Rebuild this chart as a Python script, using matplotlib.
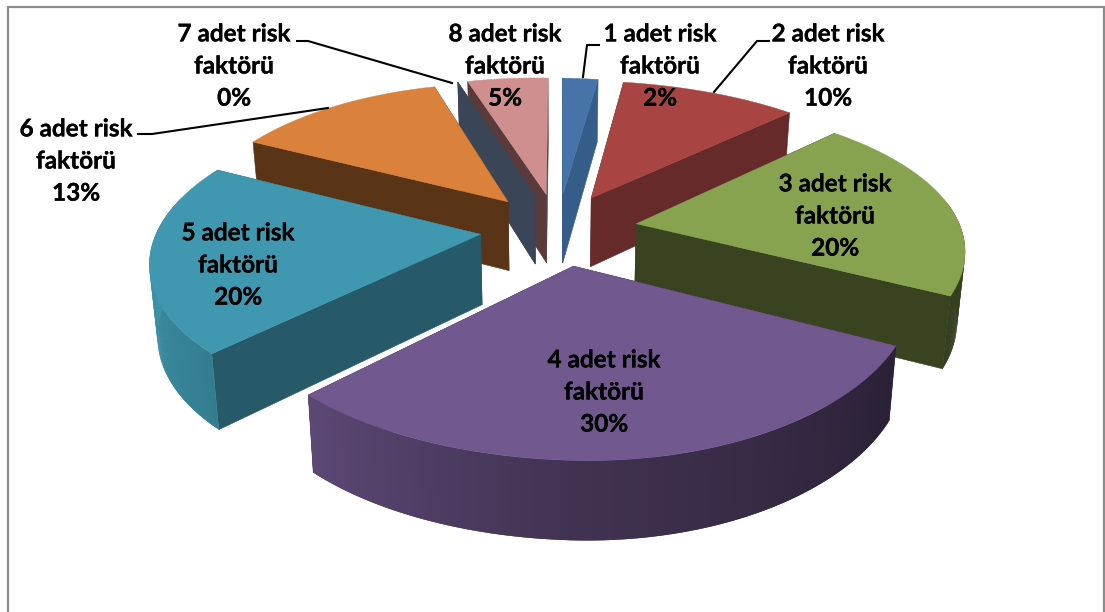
import numpy as np
import matplotlib
matplotlib.use("Agg")
import matplotlib.pyplot as plt
import matplotlib.patheffects as pe

risk_counts = [1, 2, 3, 4, 5, 6, 7, 8]
shares = [2, 10, 20, 30, 20, 13, 0, 5]
top_colors = ["#4674A9", "#A84543", "#88A34F", "#71588F", "#3F98AF", "#DA813B", "#3D4A60", "#CF8F8F"]
cut_colors = ["#365D8A", "#662A2A", "#3A4320", "#2E2439", "#265A68", "#5A3417", "#3A4557", "#5A3A3A"]

# Shading of the outer wall as a function of its angle around the pie
shade_angles = [80, 118, 180, 225, 270, 300]
shade_levels = [0.42, 0.38, 0.57, 0.83, 0.98, 1.00]

# Camera model: pixel placement of a unit-radius pie seen in perspective.
# The view is slightly off-axis, so the two halves converge at different rates.
CX, CY = 558, 229
SCALE_RIGHT, SCALE_LEFT, SCALE_Y = 327, 319, 147
ROLL = 6
PERSP_RIGHT, PERSP_LEFT, PERSP_Y = 0.12, 0.19, 0.17
EXPLODE = 0.245
DEPTH, PERSP_D, TAPER = 70, 0.10, 0.02


def project(u, v, lower=False):
    u, v = np.asarray(u, float), np.asarray(v, float)
    scale = np.where(u > 0, SCALE_RIGHT, SCALE_LEFT)
    x = CX + scale * u / (1 + np.where(u > 0, PERSP_RIGHT, PERSP_LEFT) * v)
    y = CY + (ROLL * u - SCALE_Y * v) / (1 + PERSP_Y * v)
    if lower:
        x = CX + (x - CX) * (1 - TAPER)
        y = y + DEPTH / (1 + PERSP_D * v)
    return np.column_stack([x, y])


def shaded(color, level):
    return tuple(np.array(matplotlib.colors.to_rgb(color)) * level)


fig = plt.figure(figsize=(11.05, 6.12), dpi=100)
ax = fig.add_axes([0, 0, 1, 1])
ax.set_xlim(0, 1105)
ax.set_ylim(612, 0)
ax.axis("off")

# Chart frame, running off the lower edge of the figure
ax.plot([8, 8, 1104, 1104], [612, 6.5, 6.5, 612], color="#8C8C8C", lw=1.6, solid_joinstyle="miter")

edges = np.cumsum([0] + shares) * 3.6
mids = (edges[:-1] + edges[1:]) / 2
order = np.argsort(-np.cos(np.radians(mids)), kind="stable")

for i in order:
    t0, t1, mid = edges[i], edges[i + 1], mids[i]
    du = EXPLODE * np.sin(np.radians(mid))
    dv = EXPLODE * np.cos(np.radians(mid))
    theta = np.linspace(t0, t1, max(2, int(t1 - t0) * 2 + 2))
    u = np.sin(np.radians(theta)) + du
    v = np.cos(np.radians(theta)) + dv

    # The two radial cut faces
    for k in (0, -1):
        us, vs = np.array([du, u[k]]), np.array([dv, v[k]])
        face = np.vstack([project(us, vs), project(us, vs, True)[::-1]])
        ax.fill(face[:, 0], face[:, 1], color=cut_colors[i], lw=0.4, zorder=2)

    # Outer wall: each strip runs under the next one so the gradient has no seams
    up, lo = project(u, v), project(u, v, True)
    for j in range(len(theta) - 1):
        tm = (theta[j] + theta[j + 1]) / 2
        if np.cos(np.radians(tm)) < 0.2:
            e = min(j + 2, len(theta) - 1)
            strip = np.vstack([up[j:e + 1], lo[j:e + 1][::-1]])
            ax.fill(strip[:, 0], strip[:, 1], lw=0, zorder=2,
                    color=shaded(top_colors[i], np.interp(tm, shade_angles, shade_levels)))

    # Upper surface
    if t1 > t0:
        top = np.vstack([project([du], [dv]), up])
        ax.fill(top[:, 0], top[:, 1], color=top_colors[i], lw=0.3, zorder=2)

# Leader lines from outlying labels to their slices
leaders = [
    ([583, 587, 599], [77, 45, 45]),
    ([714, 757, 769], [92, 41, 41]),
    ([328, 152, 138], [108, 134, 134]),
    ([452, 308, 297], [83, 41, 41]),
]
for lx, ly in leaders:
    ax.plot(lx, ly, color="black", lw=1.5, zorder=3)

label_x = [660, 828, 835, 604, 238, 76, 234, 505]
label_y = [66, 66, 216, 392, 265, 161, 66, 66]
for n, s, x, y in zip(risk_counts, shares, label_x, label_y):
    ax.text(x, y, f"{n} adet risk\nfaktörü\n{s}%", ha="center", va="center", multialignment="center",
            family="Lato", fontweight="bold", fontsize=17.5, linespacing=1.48, color="black", zorder=4,
            path_effects=[pe.withStroke(linewidth=0.2, foreground="black")])

fig.savefig("out.png", dpi=100)
